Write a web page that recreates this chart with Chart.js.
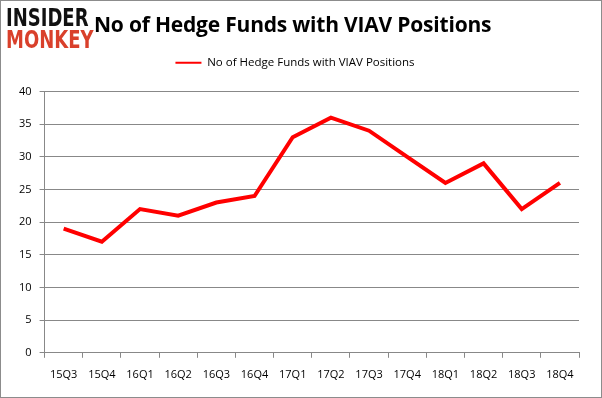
<!DOCTYPE html>
<html>
<head>
<meta charset="utf-8">
<script src="https://cdn.jsdelivr.net/npm/chart.js@4/dist/chart.umd.min.js"></script>
<style>
  html, body { margin: 0; padding: 0; background: #fff; }
  #wrap { position: relative; width: 602px; height: 398px; box-sizing: border-box; border: 1px solid #8c8c8c; }
  #logo { position: absolute; left: 5px; top: 6px; font-family: "DejaVu Sans", sans-serif; font-weight: bold; line-height: 22px; transform: scaleX(0.72); transform-origin: left top; }
  #logo .a { color: #111; font-size: 25px; }
  #logo .b { color: #d9402b; font-size: 25px; }
  #title { position: absolute; left: 93px; top: 9px; font-family: "Open Sans", sans-serif; font-weight: bold; font-size: 21px; color: #000; letter-spacing: -0.2px; }
  canvas { position: absolute; left: 0; top: 0; }
</style>
</head>
<body>
<div id="wrap">
  <canvas id="chart" width="600" height="396"></canvas>
  <div id="logo"><div class="a">INSIDER</div><div class="b">MONKEY</div></div>
  <div id="title">No of Hedge Funds with VIAV Positions</div>
</div>
<script>
  // datos
  const quarters = ['15Q3', '15Q4', '16Q1', '16Q2', '16Q3', '16Q4', '17Q1', '17Q2', '17Q3', '17Q4', '18Q1', '18Q2', '18Q3', '18Q4'];
  const hedgeFunds = [19, 17, 22, 21, 23, 24, 33, 36, 34, 30, 26, 29, 22, 26];
  const yTicks = [0, 5, 10, 15, 20, 25, 30, 35, 40];

  const font = { family: 'Open Sans, sans-serif', size: 11 };

  // deja más espacio debajo de la leyenda
  const legendGap = {
    id: 'legendGap',
    beforeInit(chart) {
      const fit = chart.legend.fit;
      chart.legend.fit = function () {
        fit.bind(chart.legend)();
        this.height += 13;
      };
    },
  };

  new Chart(document.getElementById('chart'), {
    type: 'line',
    data: {
      labels: quarters,
      datasets: [{
        label: 'No of Hedge Funds with VIAV Positions',
        data: hedgeFunds,
        borderColor: '#ff0000',
        backgroundColor: '#ff0000',
        borderWidth: 4,
        pointRadius: 0,
        tension: 0,
      }],
    },
    options: {
      responsive: false,
      animation: false,
      layout: { padding: { left: 10, right: 22, top: 46, bottom: 6 } },
      plugins: {
        legend: {
          display: true,
          labels: {
            font: { family: 'Open Sans, sans-serif', size: 11.5 },
            color: '#000',
            boxWidth: 26,
            boxHeight: 2,
            padding: 10,
            generateLabels: (chart) => chart.data.datasets.map((ds, i) => ({
              text: ds.label,
              fillStyle: ds.borderColor,
              strokeStyle: ds.borderColor,
              lineWidth: 0,
              fontColor: '#000',
              datasetIndex: i,
            })),
          },
        },
        tooltip: { enabled: false },
      },
      scales: {
        x: {
          offset: true,
          grid: { offset: true, drawOnChartArea: false, color: '#888', tickLength: 5 },
          border: { color: '#888' },
          ticks: { font: font, color: '#000', maxRotation: 0, autoSkip: false, padding: 10 },
        },
        y: {
          min: 0,
          max: 40,
          afterBuildTicks: (axis) => { axis.ticks = yTicks.map(v => ({ value: v })); },
          grid: { color: '#888', tickLength: 5 },
          border: { color: '#888' },
          ticks: { font: font, color: '#000', padding: 8 },
        },
      },
    },
    plugins: [legendGap],
  });
</script>
</body>
</html>
